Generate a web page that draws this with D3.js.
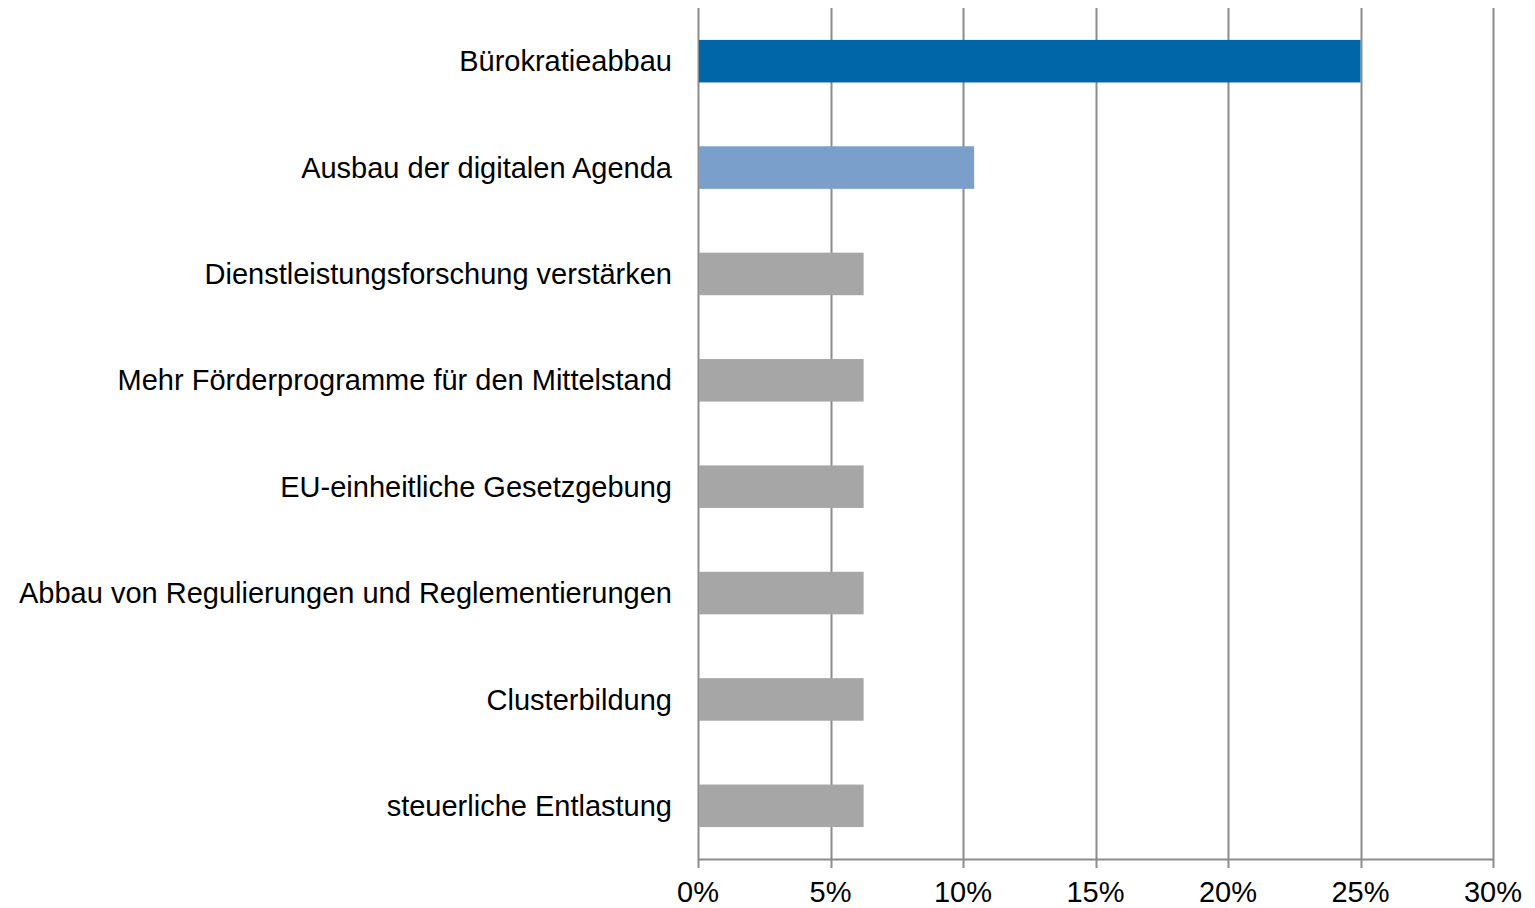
<!DOCTYPE html>
<html>
<head>
<meta charset="utf-8">
<script src="https://cdn.jsdelivr.net/npm/d3@7"></script>
<style>
  body { margin: 0; background: #fff; }
  text { font-family: "Liberation Sans", Arial, sans-serif; fill: #000; }
</style>
</head>
<body>
<div id="chart"></div>
<script>
// categories top to bottom
var categories = [
  "Bürokratieabbau",
  "Ausbau der digitalen Agenda",
  "Dienstleistungsforschung verstärken",
  "Mehr Förderprogramme für den Mittelstand",
  "EU-einheitliche Gesetzgebung",
  "Abbau von Regulierungen und Reglementierungen",
  "Clusterbildung",
  "steuerliche Entlastung"
];
var values = [25, 10.42, 6.25, 6.25, 6.25, 6.25, 6.25, 6.25];
var barColors = ["#0066a8", "#7a9fcb", "#a6a6a6", "#a6a6a6", "#a6a6a6", "#a6a6a6", "#a6a6a6", "#a6a6a6"];
var ticks = [0, 5, 10, 15, 20, 25, 30];

var W = 1535, H = 908;
var margin = {top: 8, right: 42, bottom: 49, left: 698},
    width = W - margin.left - margin.right,
    height = H - margin.top - margin.bottom;

var svg = d3.select("#chart").append("svg")
    .attr("width", W)
    .attr("height", H)
  .append("g")
    .attr("transform", "translate(" + margin.left + "," + margin.top + ")");

var x = d3.scaleLinear().domain([0, 30]).range([0, width]);
var y = d3.scaleBand().domain(categories).range([0, height]).paddingInner(0.6).paddingOuter(0.3);

// vertical gridlines
svg.selectAll(".grid")
  .data(ticks)
  .enter().append("line")
  .attr("class", "grid")
  .attr("x1", function(d) { return Math.round(x(d)) + 0.5; })
  .attr("x2", function(d) { return Math.round(x(d)) + 0.5; })
  .attr("y1", 0)
  .attr("y2", height + 9)
  .style("stroke", "#8c8c8c")
  .style("stroke-width", 2);

// bars
svg.selectAll(".bar")
  .data(values)
  .enter().append("rect")
  .attr("class", "bar")
  .attr("x", x(0) + 1)
  .attr("y", function(d, i) { return y(categories[i]); })
  .attr("width", function(d) { return x(d) - x(0) - 1; })
  .attr("height", y.bandwidth())
  .style("fill", function(d, i) { return barColors[i]; });

// x axis line
svg.append("line")
  .attr("x1", 0).attr("x2", width)
  .attr("y1", height + 0.5).attr("y2", height + 0.5)
  .style("stroke", "#8c8c8c")
  .style("stroke-width", 2);

// tick labels
svg.selectAll(".xlab")
  .data(ticks)
  .enter().append("text")
  .attr("class", "xlab")
  .attr("x", function(d) { return x(d); })
  .attr("y", height + 43)
  .attr("text-anchor", "middle")
  .style("font-size", "29px")
  .text(function(d) { return d + "%"; });

// category labels
svg.selectAll(".ylab")
  .data(categories)
  .enter().append("text")
  .attr("class", "ylab")
  .attr("x", -26)
  .attr("y", function(d) { return y(d) + y.bandwidth() / 2; })
  .attr("dy", "0.35em")
  .attr("text-anchor", "end")
  .style("font-size", "29px")
  .text(function(d) { return d; });
</script>
</body>
</html>
